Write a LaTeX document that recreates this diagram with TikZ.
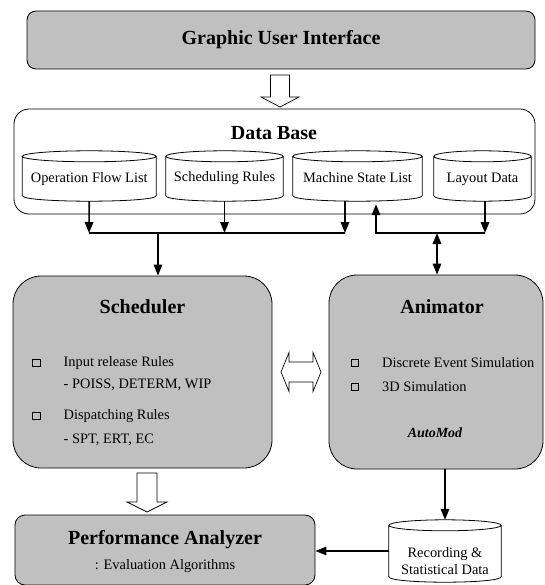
\documentclass[tikz,border=0pt]{standalone}
\usepackage{fontspec}
\setmainfont{Liberation Serif}
\usetikzlibrary{arrows.meta,calc}
\definecolor{boxgray}{RGB}{192,192,192}
\begin{document}
\begin{tikzpicture}[x=1pt,y=-1pt,
  box/.style={draw=black, line width=0.8pt, fill=boxgray, inner sep=0pt},
  plainbox/.style={draw=black, line width=0.8pt, fill=white, inner sep=0pt},
  title/.style={font=\fontsize{20}{24}\selectfont\bfseries, inner sep=0pt},
  body/.style={font=\fontsize{14.4}{17}\selectfont, inner sep=0pt},
  item/.style={body, anchor=west},
  bullet/.style={draw=black, line width=1.3pt, minimum size=7.5pt, inner sep=0pt},
  cylbox/.style={draw=none, inner sep=0pt},
  cylline/.style={draw=black, line width=0.8pt},
  conn/.style={draw=black, line width=1.6pt},
  tip/.style={-{Triangle[length=11pt,width=8.5pt]}},
  dtip/.style={{Triangle[length=11pt,width=8.5pt]}-{Triangle[length=11pt,width=8.5pt]}},
  blockarrow/.style={draw=black, line width=0.7pt, fill=white, line join=miter}
]
\useasboundingbox (0,0) rectangle (544,585);

% outline of a database cylinder around a named node
\newcommand\dbcylinder[1]{%
  \draw[cylline] let \p1=(#1.north west), \p2=(#1.south east) in
    (\x1,\y1-5.5pt) -- (\x1,\y2+5.5pt)
      .. controls (\x1,\y2-1.83pt) and (\x2,\y2-1.83pt) .. (\x2,\y2+5.5pt)
      -- (\x2,\y1-5.5pt)
    ({(\x1+\x2)/2},{\y1-5.5pt}) ellipse [x radius={(\x2-\x1)/2}, y radius=5.5pt];}

% hollow block arrow pointing down, tip at #2
\newcommand\blockdown[3]{%
  \draw[blockarrow] let \p1=(#1), \p2=(#2) in
    (\x1-#3,\y1) -- (\x1+#3,\y1) -- (\x1+#3,\y2+10pt) -- (\x1+2*#3,\y2+10pt)
    -- (\x2,\y2) -- (\x1-2*#3,\y2+10pt) -- (\x1-#3,\y2+10pt) -- cycle;}

% ---------------- top ----------------
\node[box, rounded corners=9pt, minimum width=508pt, minimum height=58pt] (gui) at (281,40) {};
\node[title] (guit) at (281,40) {Graphic User Interface};

\node[plainbox, rounded corners=15pt, minimum width=521pt, minimum height=105pt] (db) at (274.5,161.5) {};
\node[title] (dbt) at (274,133) {Data Base};

\coordinate (a1s) at (280,75);
\coordinate (a1e) at (280,107);
\blockdown{a1s}{a1e}{9.5pt}

% cylinders of the data base
\node[cylbox, minimum width=133.5pt, minimum height=50pt] (c1) at (89.25,176) {};
\node[cylbox, minimum width=117pt, minimum height=50pt] (c2) at (224.5,176) {};
\node[cylbox, minimum width=129pt, minimum height=50pt] (c3) at (357.5,176) {};
\node[cylbox, minimum width=97pt, minimum height=50pt] (c4) at (482.5,176) {};
\dbcylinder{c1}\dbcylinder{c2}\dbcylinder{c3}\dbcylinder{c4}
\node[body] (c1t) at ($(c1.center)+(0,3.5)$) {Operation Flow List};
\node[body] (c2t) at ($(c2.center)+(0,2)$) {Scheduling Rules};
\node[body] (c3t) at ($(c3.center)+(0,2)$) {Machine State List};
\node[body] (c4t) at ($(c4.center)+(0,3.5)$) {Layout Data};

% ---------------- middle ----------------
\node[box, rounded corners=28pt, minimum width=259pt, minimum height=192pt] (sched) at (142.5,372) {};
\node[title] (schedt) at (142.5,307) {Scheduler};
\node[bullet] (sb1) at (36.4,363) {};
\node[item] (si1) at (63.5,363) {Input release Rules};
\node[item] (si2) at (63.5,385) {- POISS, DETERM, WIP};
\node[bullet] (sb2) at (36.4,416) {};
\node[item] (si3) at (63.5,416) {Dispatching Rules};
\node[item] (si4) at (63.5,440) {- SPT, ERT, EC};

\node[box, rounded corners=28pt, minimum width=214pt, minimum height=194pt] (anim) at (436,372) {};
\node[title] (animt) at (442,307) {Animator};
\node[bullet] (ab1) at (355,363) {};
\node[item] (ai1) at (382,363) {Discrete Event Simulation};
\node[bullet] (ab2) at (355,387) {};
\node[item] (ai2) at (382,387) {3D Simulation};
\node[font=\fontsize{14}{17}\selectfont\bfseries\itshape, inner sep=0pt] (automod) at (435,433) {AutoMod};

% hollow double arrow between scheduler and animator
\coordinate (hl) at (281,372);
\coordinate (hr) at (321,372);
\draw[blockarrow] let \p1=(hl), \p2=(hr) in
  (\x1,\y1) -- (\x1+8pt,\y1+19.5pt) -- (\x1+8pt,\y1+10pt) -- (\x2-8pt,\y1+10pt)
  -- (\x2-8pt,\y1+19.5pt) -- (\x2,\y2) -- (\x2-8pt,\y1-19.5pt) -- (\x2-8pt,\y1-10pt)
  -- (\x1+8pt,\y1-10pt) -- (\x1+8pt,\y1-19.5pt) -- cycle;

% ---------------- bottom ----------------
\node[box, rounded corners=10pt, minimum width=300pt, minimum height=70pt] (perf) at (165,550) {};
\node[title] (perft) at (165,540) {Performance Analyzer};
\node[body] (perfs) at (165,566) {: Evaluation Algorithms};

\node[cylbox, minimum width=112pt, minimum height=62pt] (rec) at (445,551) {};
\dbcylinder{rec}
\node[body, align=center, font=\fontsize{14.4}{16.5}\selectfont] (rect) at (445,561) {Recording \&\\Statistical Data};

\coordinate (a2s) at (147,473);
\coordinate (a2e) at (147,512);
\blockdown{a2s}{a2e}{10pt}

% ---------------- connectors ----------------
\coordinate (busL) at (89,233);
\coordinate (busR) at (345,233);
\coordinate (busS) at (158,233);
\draw[conn] (busL) -- (busR);
\draw[conn, tip] (c1.south) -- (busL);
\draw[conn, tip] (c2.south) -- (c2.south |- busL);
\draw[conn, tip] (busR |- c3.south) -- (busR);
\draw[conn, tip] (busS) -- (busS |- sched.north);

\coordinate (rbL) at (376,233);
\coordinate (rbR) at (485,233);
\coordinate (rbA) at (437,233);
\draw[conn, tip] (rbR |- c4.south) -- (rbR);
\draw[conn, tip] (rbR) -- (rbL) -- ($(rbL |- c3.south)+(0,3)$);
\draw[conn, dtip] (rbA) -- (rbA |- anim.north);

\draw[conn, tip] (anim.south -| rec.north) -- (rec.north);
\draw[conn, tip] (rec.west) -- (rec.west -| perf.east);
\end{tikzpicture}
\end{document}
